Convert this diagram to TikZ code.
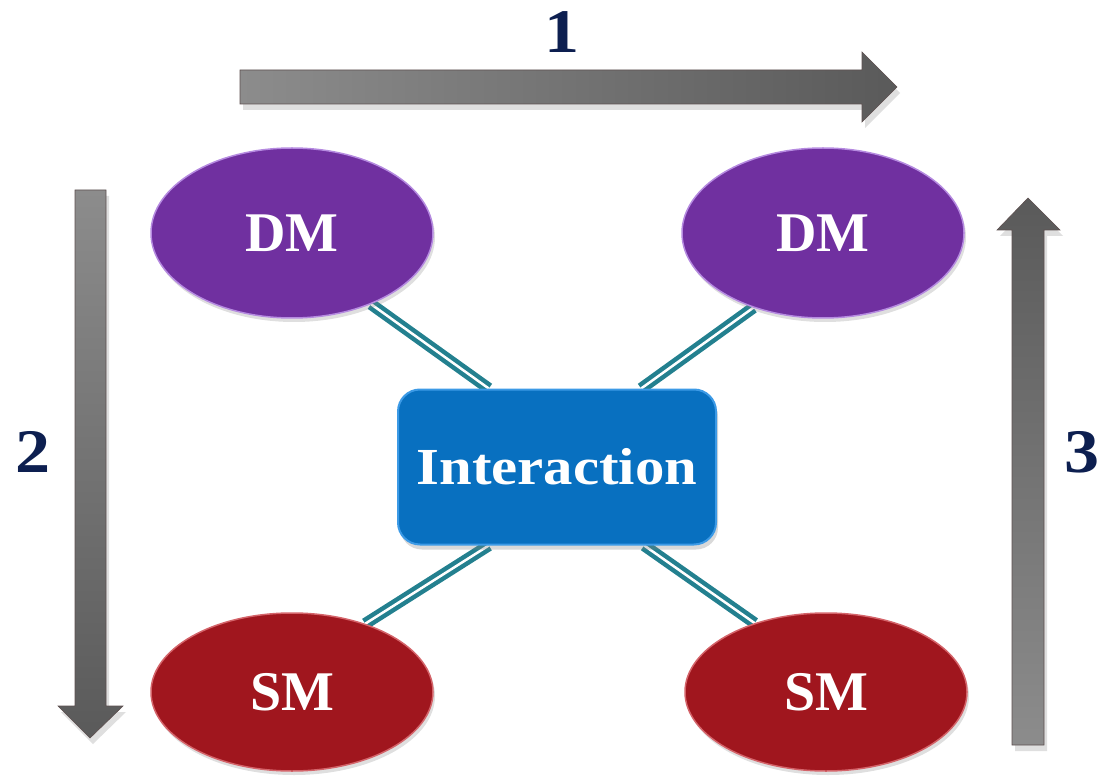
\documentclass[tikz,border=0pt]{standalone}
\usepackage{fontspec}
\setmainfont{Liberation Serif}
\newfontfamily\widefont[FakeStretch=1.13]{Liberation Serif}
\usetikzlibrary{shapes.geometric,shadows,backgrounds}
\definecolor{dmfill}{HTML}{7030A0}
\definecolor{dmrim}{HTML}{B58AE0}
\definecolor{smfill}{HTML}{A0161E}
\definecolor{smrim}{HTML}{D4646A}
\definecolor{intfill}{HTML}{0870C0}
\definecolor{intrim}{HTML}{3C9AE6}
\definecolor{linkteal}{HTML}{23808F}
\definecolor{navy}{HTML}{0D1F50}
\definecolor{arrowlight}{HTML}{8C8C8C}
\definecolor{arrowdark}{HTML}{5A5A5A}
\definecolor{arrowedge}{HTML}{5E5050}
\tikzset{
  bigtext/.style={text=white, font=\bfseries\fontsize{56}{60}\selectfont},
  dmnode/.style={ellipse, minimum width=282pt, minimum height=170pt, inner sep=0pt,
    fill=dmfill, draw=dmrim, line width=1.5pt, bigtext,
    drop shadow={shadow xshift=2pt, shadow yshift=-4pt, opacity=0.25}},
  smnode/.style={ellipse, minimum width=282pt, minimum height=158pt, inner sep=0pt,
    fill=smfill, draw=smrim, line width=1.5pt, bigtext,
    drop shadow={shadow xshift=2pt, shadow yshift=-4pt, opacity=0.25}},
  intnode/.style={rectangle, rounded corners=22pt, minimum width=318pt, minimum height=155pt,
    inner sep=0pt, fill=intfill, draw=intrim, line width=2pt, text=white,
    font=\widefont\bfseries\fontsize{52}{56}\selectfont,
    drop shadow={shadow xshift=2pt, shadow yshift=-5pt, opacity=0.3}},
  link/.style={draw=linkteal, line width=4.5pt, double=white, double distance=2.5pt},
  bigarrow/.style={draw=arrowedge, line width=0.6pt,
    drop shadow={shadow xshift=3pt, shadow yshift=-6pt, opacity=0.25}},
  steplabel/.style={text=navy, font=\widefont\bfseries\fontsize{62}{66}\selectfont}
}
\begin{document}
\begin{tikzpicture}[x=1pt, y=-1pt]
\useasboundingbox (0,0) rectangle (1105,783);

% the four models and the central interaction box
\node[dmnode] (dml) at (292,233) {DM};
\node[dmnode] (dmr) at (823,233) {DM};
\node[smnode] (sml) at (292,692) {SM};
\node[smnode] (smr) at (826,692) {SM};
\node[intnode] (int) at (557,467) {Interaction};

% links to the interaction box, behind the nodes
\begin{scope}[on background layer]
  \draw[link] (dml.-42) -- (int.131);
  \draw[link] (dmr.-133) -- (int.43);
  \draw[link] (sml.43) -- (int.-131);
  \draw[link] (smr.136) -- (int.-42);
\end{scope}

% step 1: left to right along the top
\path[bigarrow, left color=arrowlight, right color=arrowdark]
  (240,70) -- (862,70) -- (862,52) -- (897,87) -- (862,122) -- (862,104) -- (240,104) -- cycle;
\node[steplabel] (n1) at (562,32) {1};

% step 2: downwards on the left
\path[bigarrow, top color=arrowlight, bottom color=arrowdark]
  (75,190) -- (106,190) -- (106,706) -- (123,706) -- (90,738) -- (58,706) -- (75,706) -- cycle;
\node[steplabel] (n2) at (33,452) {2};

% step 3: upwards on the right
\path[bigarrow, top color=arrowdark, bottom color=arrowlight]
  (1012,745) -- (1044,745) -- (1044,230) -- (1060,230) -- (1028,198) -- (997,230) -- (1012,230) -- cycle;
\node[steplabel] (n3) at (1082,452) {3};
\end{tikzpicture}
\end{document}
